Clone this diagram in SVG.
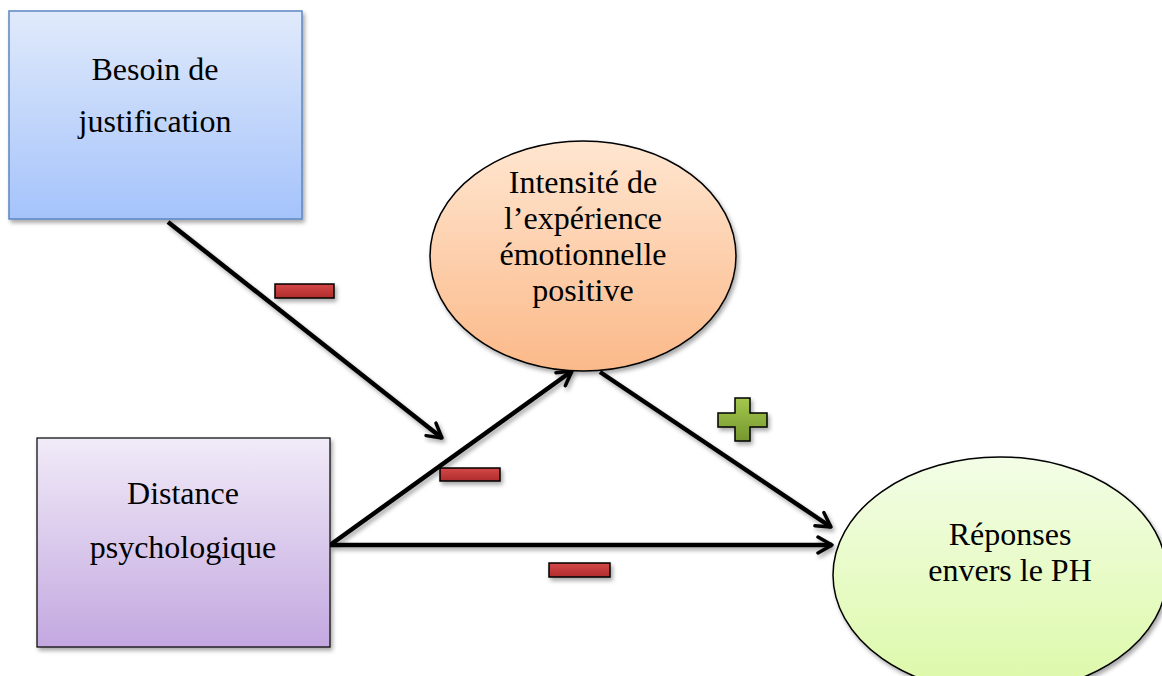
<svg xmlns="http://www.w3.org/2000/svg" width="1162" height="676" viewBox="0 0 1162 676">
<defs>
<linearGradient id="gBlue" x1="0" y1="0" x2="0" y2="1"><stop offset="0" stop-color="#e0eafb"/><stop offset="1" stop-color="#a5c3fb"/></linearGradient>
<linearGradient id="gPurple" x1="0" y1="0" x2="0" y2="1"><stop offset="0" stop-color="#f1ebf8"/><stop offset="1" stop-color="#c3a8e0"/></linearGradient>
<linearGradient id="gOrange" x1="0" y1="0" x2="0" y2="1"><stop offset="0" stop-color="#ffe6d0"/><stop offset="1" stop-color="#fbb989"/></linearGradient>
<linearGradient id="gGreen" x1="0" y1="0" x2="0" y2="1"><stop offset="0" stop-color="#f3fde6"/><stop offset="1" stop-color="#dcf9a8"/></linearGradient>
<linearGradient id="gRed" x1="0" y1="0" x2="0" y2="1"><stop offset="0" stop-color="#d44848"/><stop offset="1" stop-color="#b02c2c"/></linearGradient>
<linearGradient id="gPlus" x1="0" y1="0" x2="0" y2="1"><stop offset="0" stop-color="#a4c84e"/><stop offset="1" stop-color="#76962e"/></linearGradient>
<filter id="sh" x="-10%" y="-10%" width="130%" height="130%"><feDropShadow dx="2" dy="3" stdDeviation="2" flood-color="#000" flood-opacity="0.35"/></filter>
<marker id="arr" viewBox="0 0 20 20" refX="17" refY="10" markerWidth="20" markerHeight="20" markerUnits="userSpaceOnUse" orient="auto"><path d="M3,2 L17,10 L3,18" fill="none" stroke="#000" stroke-width="3.5" stroke-linecap="round" stroke-linejoin="round"/></marker>
</defs>
<style>
.lbl{font-family:"Liberation Serif","Times New Roman",serif;font-size:32px;fill:#000;text-anchor:middle}
.con{stroke:#000;stroke-width:4.5;fill:none;marker-end:url(#arr)}
.minus{fill:url(#gRed);stroke:#000;stroke-width:1.5}
</style>
<rect width="1162" height="676" fill="#fff"/>
<g id="connectors" filter="url(#sh)">
<line class="con" x1="168" y1="222" x2="442" y2="438"/>
<line class="con" x1="330" y1="545" x2="572" y2="371"/>
<line class="con" x1="600" y1="372" x2="831" y2="527"/>
<line class="con" x1="330" y1="545" x2="832" y2="545"/>
</g>
<g id="signs" filter="url(#sh)">
<rect class="minus" x="275" y="284" width="59" height="14"/>
<rect class="minus" x="440" y="468" width="60" height="13"/>
<rect class="minus" x="549" y="563" width="61" height="14"/>
<path d="M735,398 H750 V413 H767 V427 H750 V441 H735 V427 H718 V413 H735 Z" fill="url(#gPlus)" stroke="#000" stroke-width="1.5"/>
</g>
<g id="besoin">
<rect x="9" y="11" width="293" height="208" fill="url(#gBlue)" stroke="#5b87c2" stroke-width="1.5" filter="url(#sh)"/>
<text class="lbl" x="155" y="80">Besoin de</text>
<text class="lbl" x="155" y="132">justification</text>
</g>
<g id="distance">
<rect x="37" y="438" width="293" height="209" fill="url(#gPurple)" stroke="#000" stroke-width="1.2" filter="url(#sh)"/>
<text class="lbl" x="183" y="504">Distance</text>
<text class="lbl" x="183" y="558">psychologique</text>
</g>
<g id="intensite">
<ellipse cx="583" cy="256" rx="153" ry="115" fill="url(#gOrange)" stroke="#000" stroke-width="1.5" filter="url(#sh)"/>
<text class="lbl" x="583" y="193">Intensité de</text>
<text class="lbl" x="583" y="229">l’expérience</text>
<text class="lbl" x="583" y="265">émotionnelle</text>
<text class="lbl" x="583" y="301">positive</text>
</g>
<g id="reponses">
<ellipse cx="1000" cy="575" rx="167" ry="118" fill="url(#gGreen)" stroke="#000" stroke-width="1.5" filter="url(#sh)"/>
<text class="lbl" x="1010" y="545">Réponses</text>
<text class="lbl" x="1010" y="581">envers le PH</text>
</g>
</svg>
